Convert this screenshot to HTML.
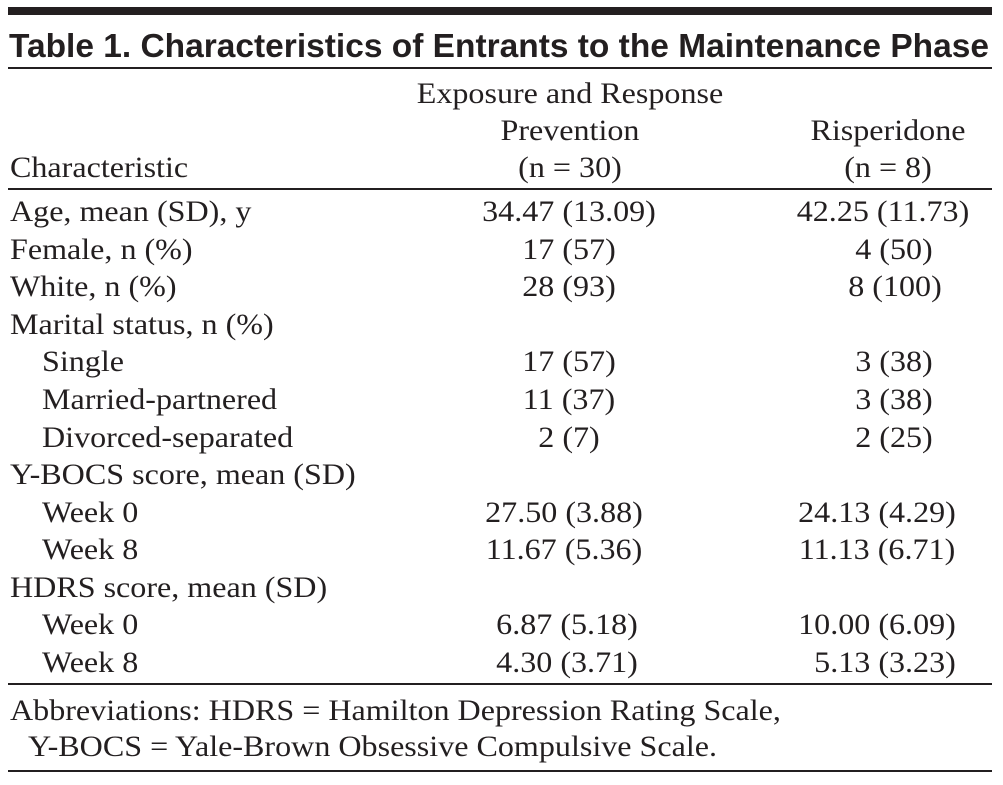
<!DOCTYPE html>
<html><head><meta charset="utf-8"><style>
html,body{margin:0;padding:0;background:#fff;}
svg{display:block}
.s text{font-family:"Liberation Serif",serif;font-size:30px;fill:#231f20;transform-box:fill-box;transform:scaleX(1.07);transform-origin:left center}
.s text[text-anchor="middle"]{transform-origin:center center}
.t{font-family:"Liberation Sans",sans-serif;font-size:33px;font-weight:bold;fill:#231f20}
</style></head><body>
<svg width="1003" height="785" xmlns="http://www.w3.org/2000/svg">
<rect x="8" y="7" width="984" height="8" fill="#231f20"/>
<text class="t" x="9" y="57" textLength="980" lengthAdjust="spacingAndGlyphs">Table 1. Characteristics of Entrants to the Maintenance Phase</text>
<rect x="8" y="67" width="984" height="2" fill="#231f20"/>
<g class="s">
<text x="570" y="103" text-anchor="middle">Exposure and Response</text>
<text x="570" y="140" text-anchor="middle">Prevention</text>
<text x="570" y="177" text-anchor="middle">(n = 30)</text>
<text x="888" y="140" text-anchor="middle">Risperidone</text>
<text x="888" y="177" text-anchor="middle">(n = 8)</text>
<text x="10" y="177">Characteristic</text>
</g>
<rect x="8" y="188" width="984" height="2" fill="#231f20"/>
<g class="s">
<text x="10" y="221">Age, mean (SD), y</text>
<text x="10" y="259">Female, n (%)</text>
<text x="10" y="296">White, n (%)</text>
<text x="10" y="334">Marital status, n (%)</text>
<text x="42" y="371">Single</text>
<text x="42" y="409">Married-partnered</text>
<text x="42" y="447">Divorced-separated</text>
<text x="10" y="484">Y-BOCS score, mean (SD)</text>
<text x="42" y="522">Week 0</text>
<text x="42" y="559">Week 8</text>
<text x="10" y="597">HDRS score, mean (SD)</text>
<text x="42" y="634">Week 0</text>
<text x="42" y="672">Week 8</text>

<text x="569" y="221" text-anchor="middle">34.47 (13.09)</text>
<text x="569" y="259" text-anchor="middle">17 (57)</text>
<text x="569" y="296" text-anchor="middle">28 (93)</text>
<text x="569" y="371" text-anchor="middle">17 (57)</text>
<text x="569" y="409" text-anchor="middle">11 (37)</text>
<text x="569" y="447" text-anchor="middle">2 (7)</text>
<text x="564" y="522" text-anchor="middle">27.50 (3.88)</text>
<text x="564" y="559" text-anchor="middle">11.67 (5.36)</text>
<text x="567" y="634" text-anchor="middle">6.87 (5.18)</text>
<text x="567" y="672" text-anchor="middle">4.30 (3.71)</text>

<text x="883" y="221" text-anchor="middle">42.25 (11.73)</text>
<text x="894" y="259" text-anchor="middle">4 (50)</text>
<text x="895" y="296" text-anchor="middle">8 (100)</text>
<text x="894" y="371" text-anchor="middle">3 (38)</text>
<text x="894" y="409" text-anchor="middle">3 (38)</text>
<text x="894" y="447" text-anchor="middle">2 (25)</text>
<text x="877" y="522" text-anchor="middle">24.13 (4.29)</text>
<text x="877" y="559" text-anchor="middle">11.13 (6.71)</text>
<text x="877" y="634" text-anchor="middle">10.00 (6.09)</text>
<text x="885" y="672" text-anchor="middle">5.13 (3.23)</text>
</g>
<rect x="8" y="683" width="984" height="2" fill="#231f20"/>
<g class="s">
<text x="10" y="720">Abbreviations: HDRS = Hamilton Depression Rating Scale,</text>
<text x="28" y="756">Y-BOCS = Yale-Brown Obsessive Compulsive Scale.</text>
</g>
<rect x="8" y="770" width="984" height="2" fill="#231f20"/>
</svg>
</body></html>
